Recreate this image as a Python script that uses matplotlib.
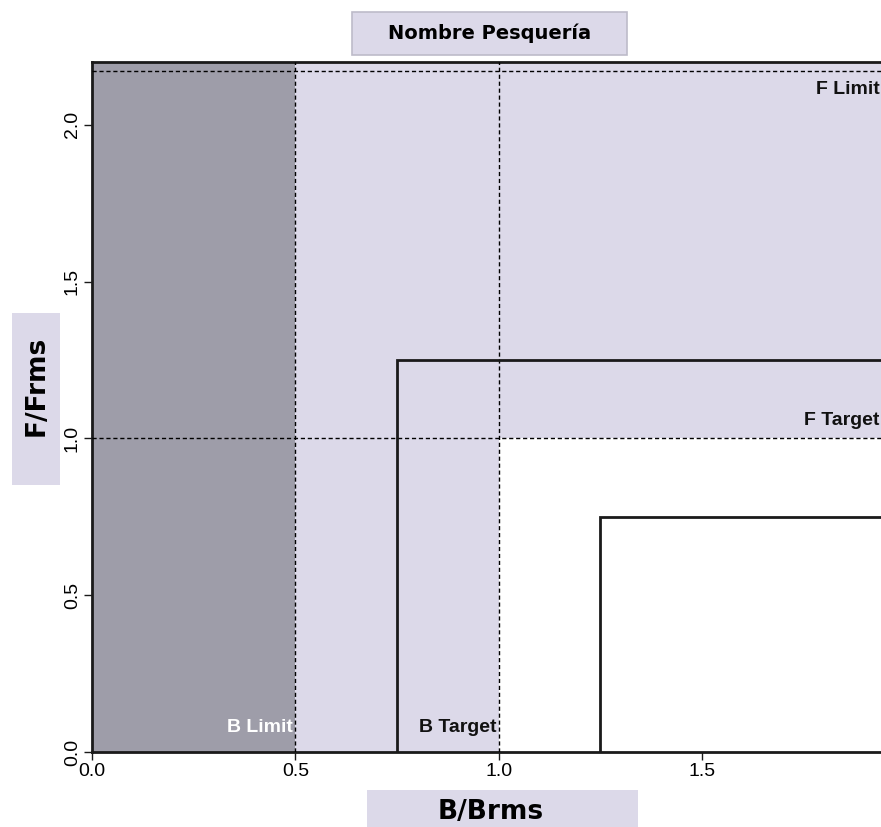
import matplotlib
matplotlib.use("Agg")
import matplotlib.pyplot as plt
from matplotlib.patches import Rectangle

# Reference points
b_limit = 0.5
b_target = 1.0
f_limit = 2.17
f_target = 1.0

# Stepped boundary lines (x start, height)
step_x = [0.75, 1.25]
step_y = [1.25, 0.75]

x_ticks = [0.0, 0.5, 1.0, 1.5]
y_ticks = [0.0, 0.5, 1.0, 1.5, 2.0]
xmax, ymax = 1.94, 2.2

dark = "#9e9da9"
lav = "#dcd9e9"

fig = plt.figure(figsize=(8.81, 8.27), dpi=100)
ax = fig.add_axes([0.1044, 0.0907, 1 - 0.1044, 0.925 - 0.0907])
ax.set_xlim(0, xmax)
ax.set_ylim(0, ymax)

# zones
ax.add_patch(Rectangle((0, 0), xmax, ymax, facecolor=lav, edgecolor="none", zorder=0))
ax.add_patch(Rectangle((b_target, 0), xmax - b_target, f_target, facecolor="white", edgecolor="none", zorder=1))
ax.add_patch(Rectangle((0, 0), b_limit, ymax, facecolor=dark, edgecolor="none", zorder=2))

dash = (0, (3, 2))
ax.axvline(b_limit, color="black", lw=1, ls=dash, zorder=3)
ax.axvline(b_target, color="black", lw=1, ls=dash, zorder=3)
ax.axhline(f_limit, color="black", lw=1, ls=dash, zorder=3)
ax.axhline(f_target, color="black", lw=1, ls=dash, zorder=3)

for sx, sy in zip(step_x, step_y):
    ax.plot([sx, sx, xmax], [0, sy, sy], color="#1a1a1a", lw=2, zorder=4, solid_joinstyle="miter")

fnt = dict(family="Liberation Sans", fontweight="bold", fontsize=14)
ax.text(b_limit - 0.005, 0.05, "B Limit", color="white", ha="right", va="bottom", **fnt)
ax.text(b_target - 0.005, 0.05, "B Target", color="#111111", ha="right", va="bottom", **fnt)
ax.text(xmax - 0.003, f_limit - 0.03, "F Limit", color="#111111", ha="right", va="top", **fnt)
ax.text(xmax - 0.003, f_target + 0.03, "F Target", color="#111111", ha="right", va="bottom", **fnt)

for side in ["top", "left", "bottom"]:
    ax.spines[side].set_linewidth(2)
    ax.spines[side].set_color("#1a1a1a")
ax.spines["right"].set_visible(False)

ax.set_xticks(x_ticks)
ax.set_xticklabels([f"{v:.1f}" for v in x_ticks], family="Liberation Sans", fontsize=14)
ax.set_yticks(y_ticks)
ax.set_yticklabels([f"{v:.1f}" for v in y_ticks], family="Liberation Sans", fontsize=14,
                   rotation=90, va="center")
ax.tick_params(length=6, width=1, color="#1a1a1a", pad=2)

# label boxes
fig.patches.append(Rectangle((0.3995, 0.9335), 0.3122, 0.052, transform=fig.transFigure,
                             facecolor=lav, edgecolor="#bdbbc9", lw=1.2, zorder=0))
fig.patches.append(Rectangle((0.0136, 0.4135), 0.0545, 0.208, transform=fig.transFigure,
                             facecolor=lav, edgecolor="none", zorder=0))
fig.patches.append(Rectangle((0.4166, 0.0), 0.3076, 0.0447, transform=fig.transFigure,
                             facecolor=lav, edgecolor="none", zorder=0))

fig.text(0.556, 0.9595, "Nombre Pesquería", ha="center", va="center",
         family="DejaVu Sans", fontweight="bold", fontsize=14)
fig.text(0.042, 0.533, "F/Frms", ha="center", va="center", rotation=90,
         family="DejaVu Sans", fontweight="bold", fontsize=19)
fig.text(0.557, 0.018, "B/Brms", ha="center", va="center",
         family="DejaVu Sans", fontweight="bold", fontsize=19)

fig.savefig("out.png", dpi=100)
